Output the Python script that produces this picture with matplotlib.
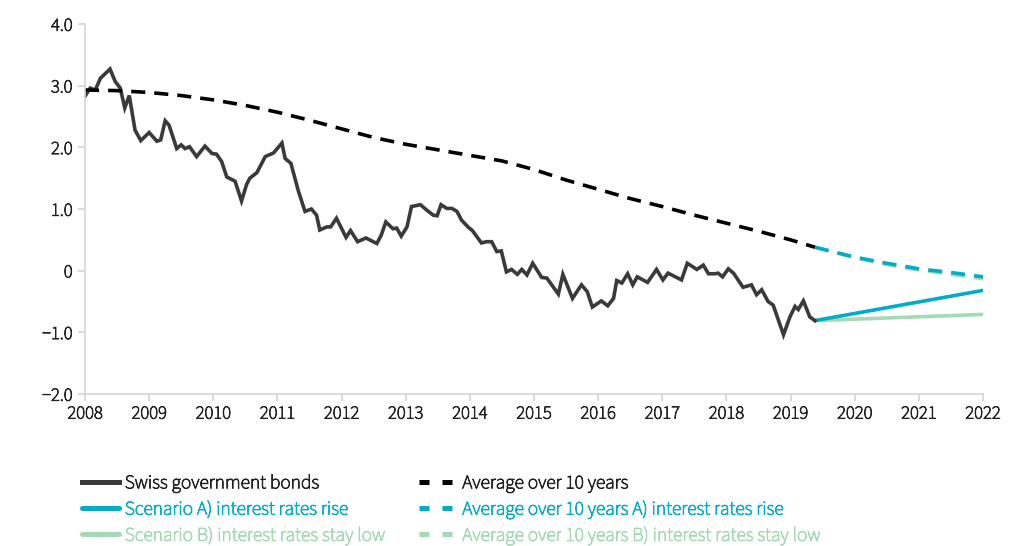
import matplotlib
matplotlib.use("Agg")
import matplotlib.pyplot as plt
import matplotlib.patheffects as pe

plt.rcParams['font.family'] = ['Source Sans 3', 'Lato', 'DejaVu Sans']

# Swiss government bonds (yield, %)
bond_years = [2008.00, 2008.08, 2008.16, 2008.24, 2008.39, 2008.47, 2008.55, 2008.62, 2008.69, 2008.78,
              2008.87, 2009.00, 2009.12, 2009.18, 2009.25, 2009.31, 2009.43, 2009.50, 2009.56, 2009.63,
              2009.74, 2009.87, 2009.98, 2010.05, 2010.13, 2010.21, 2010.34, 2010.44, 2010.52, 2010.57,
              2010.68, 2010.81, 2010.94, 2011.07, 2011.12, 2011.21, 2011.33, 2011.43, 2011.53, 2011.61,
              2011.66, 2011.77, 2011.83, 2011.92, 2012.07, 2012.14, 2012.25, 2012.38, 2012.55, 2012.62,
              2012.69, 2012.80, 2012.86, 2012.93, 2013.02, 2013.09, 2013.23, 2013.33, 2013.43, 2013.49,
              2013.55, 2013.64, 2013.72, 2013.80, 2013.87, 2013.98, 2014.04, 2014.18, 2014.26, 2014.34,
              2014.42, 2014.49, 2014.57, 2014.65, 2014.74, 2014.81, 2014.89, 2014.98, 2015.12, 2015.20,
              2015.38, 2015.45, 2015.60, 2015.74, 2015.83, 2015.91, 2016.05, 2016.15, 2016.24, 2016.29,
              2016.37, 2016.46, 2016.54, 2016.61, 2016.77, 2016.91, 2017.01, 2017.09, 2017.30, 2017.39,
              2017.54, 2017.64, 2017.72, 2017.82, 2017.87, 2017.94, 2018.03, 2018.11, 2018.26, 2018.39,
              2018.47, 2018.55, 2018.65, 2018.73, 2018.89, 2018.99, 2019.07, 2019.12, 2019.20, 2019.30,
              2019.38]
bond_values = [2.83, 2.96, 2.93, 3.12, 3.27, 3.07, 2.96, 2.64, 2.84, 2.28,
               2.11, 2.24, 2.10, 2.12, 2.43, 2.36, 1.98, 2.04, 1.98, 2.01,
               1.85, 2.02, 1.90, 1.89, 1.77, 1.52, 1.45, 1.13, 1.40, 1.50,
               1.59, 1.85, 1.91, 2.07, 1.82, 1.74, 1.28, 0.96, 1.00, 0.90,
               0.66, 0.71, 0.71, 0.85, 0.54, 0.65, 0.47, 0.53, 0.44, 0.58,
               0.79, 0.68, 0.69, 0.56, 0.71, 1.04, 1.07, 0.98, 0.90, 0.89,
               1.07, 1.01, 1.01, 0.96, 0.82, 0.70, 0.65, 0.45, 0.47, 0.47,
               0.31, 0.32, -0.02, 0.02, -0.06, 0.02, -0.07, 0.12, -0.11, -0.12,
               -0.38, -0.06, -0.45, -0.23, -0.34, -0.59, -0.49, -0.57, -0.45, -0.16,
               -0.20, -0.05, -0.23, -0.10, -0.19, 0.02, -0.15, -0.04, -0.15, 0.12,
               0.02, 0.09, -0.05, -0.05, -0.04, -0.10, 0.03, -0.04, -0.27, -0.23,
               -0.39, -0.31, -0.50, -0.56, -1.04, -0.75, -0.58, -0.63, -0.49, -0.75,
               -0.81]

# 10-year average
avg_years = [2008.0, 2008.5, 2009.0, 2009.5, 2010.0, 2010.5, 2011.0, 2011.5, 2012.0, 2012.5,
             2013.0, 2013.5, 2014.0, 2014.5, 2015.0, 2015.5, 2016.0, 2016.5, 2017.0, 2017.5,
             2018.0, 2018.5, 2019.0, 2019.38]
avg_values = [2.93, 2.92, 2.89, 2.84, 2.77, 2.68, 2.57, 2.44, 2.30, 2.16,
              2.05, 1.96, 1.87, 1.78, 1.64, 1.47, 1.32, 1.17, 1.04, 0.90,
              0.77, 0.64, 0.50, 0.38]

# Scenarios
scen_years = [2019.38, 2022.0]
scen_a = [-0.81, -0.32]
scen_b = [-0.81, -0.71]

scen_avg_years = [2019.38, 2020.0, 2020.5, 2021.0, 2021.5, 2022.0]
scen_avg_a = [0.38, 0.22, 0.12, 0.03, -0.03, -0.10]
scen_avg_b = [0.38, 0.21, 0.10, 0.01, -0.06, -0.13]

year_ticks = list(range(2008, 2023))
y_ticks = [-2, -1, 0, 1, 2, 3, 4]
y_labels = ['\u22122.0', '\u22121.0', '0', '1.0', '2.0', '3.0', '4.0']

black = '#3a3a3a'
cyan = '#00adc8'
green = '#a3dab3'
dash = (3.9, 2.5)

fig = plt.figure(figsize=(10.18, 5.46), dpi=100)
ax = fig.add_axes([0.0835, 0.2784, 0.8821, 0.6776])

ax.plot(scen_avg_years, scen_avg_b, color=green, lw=2.6, dashes=dash,
        label='Average over 10 years B) interest rates stay low')
ax.plot(scen_avg_years, scen_avg_a, color=cyan, lw=2.6, dashes=dash,
        label='Average over 10 years A) interest rates rise')
ax.plot(scen_years, scen_b, color=green, lw=2.6, solid_capstyle='round',
        label='Scenario B) interest rates stay low')
ax.plot(scen_years, scen_a, color=cyan, lw=2.6, solid_capstyle='round',
        label='Scenario A) interest rates rise')
ax.plot(bond_years, bond_values, color=black, lw=2.6, solid_joinstyle='miter',
        label='Swiss government bonds')
ax.plot(avg_years, avg_values, color='#000000', lw=2.6, dashes=dash,
        label='Average over 10 years')

ax.set_xlim(2008, 2022)
ax.set_ylim(-2, 4)
ax.set_xticks(year_ticks)
ax.set_xticklabels([str(y) for y in year_ticks])
ax.set_yticks(y_ticks)
ax.set_yticklabels(y_labels)

for s in ['top', 'right']:
    ax.spines[s].set_visible(False)
for s in ['left', 'bottom']:
    ax.spines[s].set_color('#d4d4d4')
    ax.spines[s].set_linewidth(1.2)
ax.tick_params(axis='both', colors='#d4d4d4', labelcolor='#222222',
               labelsize=13.5, length=5, width=1.2)
ax.tick_params(axis='x', pad=3)
ax.tick_params(axis='y', pad=4)

# the installed Source Sans renders thin, so thicken the glyphs a little
for lab in ax.get_xticklabels() + ax.get_yticklabels():
    lab.set_path_effects([pe.withStroke(linewidth=0.6, foreground='#222222')])

handles, labels = ax.get_legend_handles_labels()
order = ['Swiss government bonds', 'Scenario A) interest rates rise',
         'Scenario B) interest rates stay low', 'Average over 10 years',
         'Average over 10 years A) interest rates rise',
         'Average over 10 years B) interest rates stay low']
hl = dict(zip(labels, handles))
leg = fig.legend([hl[l] for l in order], order, ncol=2, frameon=False,
                 loc='upper left', bbox_to_anchor=(0.0805, 0.133),
                 fontsize=14, handlelength=1.9, handletextpad=0.3,
                 columnspacing=1.8, labelspacing=0.32, borderpad=0,
                 borderaxespad=0)
for txt, c in zip(leg.get_texts(), ['#222222', cyan, green, '#222222', cyan, green]):
    txt.set_color(c)
    txt.set_path_effects([pe.withStroke(linewidth=0.6, foreground=c)])
for i, ln in enumerate(leg.get_lines()):
    ln.set_linewidth(3.6)
    if i >= 3:
        ln.set_dashes((2.0, 2.6))

fig.savefig('out.png', dpi=100)
